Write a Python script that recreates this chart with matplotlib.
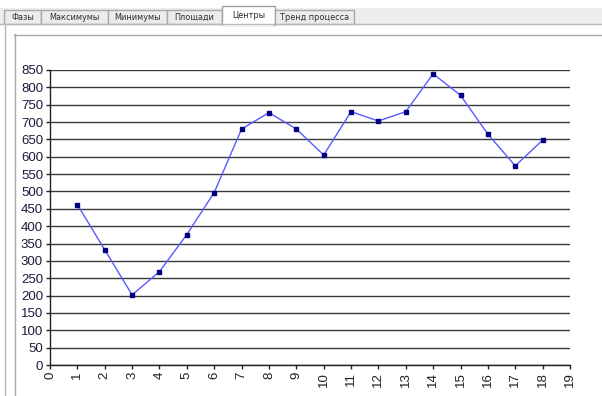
"""Recreation of the 'Центры' tab chart."""

import matplotlib

matplotlib.use("Agg")
import matplotlib.pyplot as plt
from matplotlib.patches import Rectangle

tab_labels = ["Фазы", "Максимумы", "Минимумы", "Площади", "Центры", "Тренд процесса"]
active_tab = "Центры"

points = list(range(1, 19))
centers = [462, 332, 202, 269, 376, 497, 680, 727, 680,
           605, 730, 703, 730, 839, 777, 665, 574, 648]

x_ticks = list(range(0, 20))
y_ticks = list(range(0, 851, 50))

W, H = 602, 396
fig = plt.figure(figsize=(W / 100, H / 100), dpi=100)
plt.rcParams["font.family"] = ["Liberation Sans", "DejaVu Sans"]

# window chrome: tab strip and panel borders, drawn in pixel coordinates
chrome = fig.add_axes([0, 0, 1, 1])
chrome.set_xlim(0, W)
chrome.set_ylim(H, 0)
chrome.axis("off")
chrome.add_patch(Rectangle((0, 8), W, 16, facecolor="#eeeeee", edgecolor="none"))
chrome.plot([0, W], [23.5, 23.5], color="#b8b8b8", lw=1)
chrome.add_patch(Rectangle((4, 24), W, H, facecolor="white", edgecolor="none"))
chrome.plot([4.5, 4.5], [24, H], color="#b8b8b8", lw=1)
chrome.plot([14.5, 14.5], [34, H], color="#a8a8a8", lw=1)
chrome.plot([14, W], [34.5, 34.5], color="#a8a8a8", lw=1)

tab_edges = [4, 41, 108, 167, 222, 275, 354]
for i, label in enumerate(tab_labels):
    x0, x1 = tab_edges[i], tab_edges[i + 1]
    if label == active_tab:
        chrome.add_patch(Rectangle((x0, 6), x1 - x0, 19, facecolor="white",
                                   edgecolor="#a0a0a0", lw=1))
        chrome.add_patch(Rectangle((x0 + 1, 22), x1 - x0 - 2, 4, facecolor="white",
                                   edgecolor="none"))
        ty = 16
    else:
        chrome.add_patch(Rectangle((x0, 10), x1 - x0, 14, facecolor="#ececec",
                                   edgecolor="#a8a8a8", lw=1))
        ty = 17.5
    chrome.text((x0 + x1) / 2, ty, label, ha="center", va="center",
                fontsize=5.9, color="#303030", family=["DejaVu Sans"])

# chart
ax = fig.add_axes([50 / W, 1 - 365 / H, 520 / W, 295 / H])
ax.plot(points, centers, color="#5a5aff", lw=1, marker="s", markersize=3.2,
        markerfacecolor="#000080", markeredgecolor="#000080")
ax.set_xlim(0, 19)
ax.set_ylim(0, 850)
ax.set_xticks(x_ticks)
ax.set_yticks(y_ticks)
ax.set_xticklabels([str(v) for v in x_ticks], rotation=90)
ax.tick_params(axis="both", labelsize=9.5, length=3, width=1, colors="#202020",
               direction="out", pad=2)
ax.tick_params(axis="y", labelcolor="#1a1a3a")
ax.yaxis.grid(True, color="#3a3a3a", lw=1)
ax.set_axisbelow(True)
for side in ("top", "right"):
    ax.spines[side].set_visible(False)
for side in ("left", "bottom"):
    ax.spines[side].set_color("#202020")
    ax.spines[side].set_linewidth(1)

fig.savefig("out.png", dpi=100)
plt.close(fig)
